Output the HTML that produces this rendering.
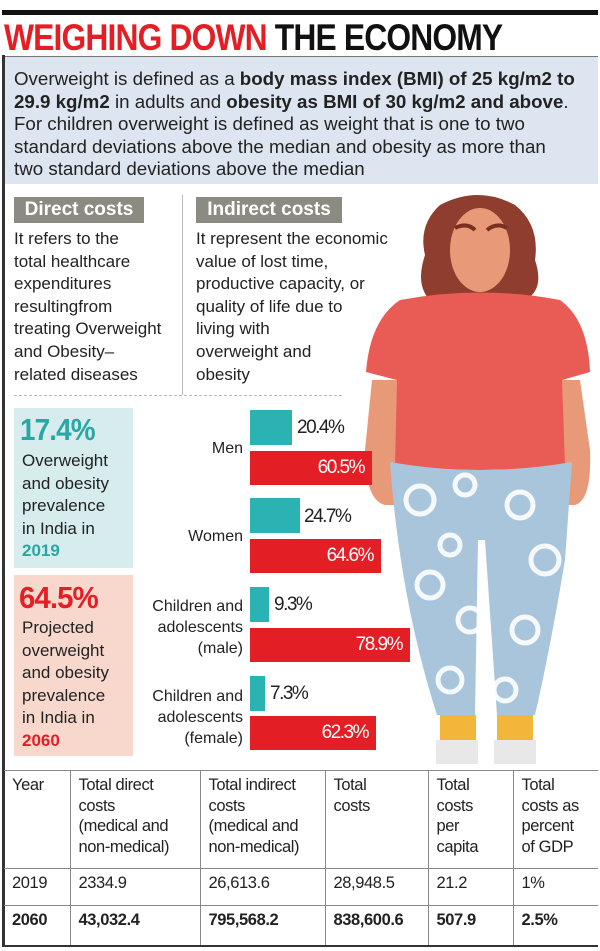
<!DOCTYPE html>
<html><head><meta charset="utf-8"><style>
*{margin:0;padding:0;box-sizing:border-box}
body{width:600px;height:951px;background:#fff;position:relative;overflow:hidden;font-family:"Liberation Sans",sans-serif;color:#222}
.a{position:absolute}
.bar{position:absolute;left:250px}
.teal{background:#2bb3b3}
.red{background:#e31e24;color:#fff;text-align:right;font-size:19px;letter-spacing:-1.5px;padding-right:8px;line-height:34px}
.pct{position:absolute;font-size:19px;letter-spacing:-1.5px;line-height:34px}
.lbl{position:absolute;right:357px;text-align:right;font-size:16px;line-height:21px}
.nw{white-space:nowrap;transform-origin:left top}
table{position:absolute;left:4px;top:770px;width:594px;border-collapse:collapse;font-size:16.5px;line-height:20.5px;letter-spacing:-0.4px}
td{border-left:1.5px solid #888;border-top:1.5px solid #888;vertical-align:top;padding:4px 8px;white-space:nowrap}
td:first-child{border-left:none}
</style></head><body>
<div class="a" style="left:2px;top:10px;width:596px;height:5px;background:#111"></div>
<div class="a" style="left:2px;top:55px;width:3px;height:892px;background:#333"></div>
<div class="a nw" style="left:4px;top:16px;font-size:37px;font-weight:bold;letter-spacing:-1px;transform:scaleX(0.86);line-height:44px"><span style="color:#e31e24">WEIGHING DOWN</span> <span style="color:#111">THE ECONOMY</span></div>
<div class="a" style="left:5px;top:56px;width:593px;height:128px;background:#dde5f1;border-top:1px solid #777"></div>
<div class="a nw" style="left:14px;top:68px;font-size:18px;line-height:22.5px;color:#222;transform:scaleX(1.04)">Overweight is defined as a <b>body mass index (BMI) of 25 kg/m2 to</b><br><b>29.9 kg/m2</b> in adults and <b>obesity as BMI of 30 kg/m2 and above</b>.<br>For children overweight is defined as weight that is one to two<br>standard deviations above the median and obesity as more than<br>two standard deviations above the median</div>

<div class="a" style="left:14px;top:197px;width:130px;height:26px;background:#8c8b82;color:#fff;font-weight:bold;font-size:19px;line-height:26px;text-align:center">Direct costs</div>
<div class="a" style="left:196px;top:197px;width:146px;height:26px;background:#8c8b82;color:#fff;font-weight:bold;font-size:19px;line-height:26px;text-align:center">Indirect costs</div>
<div class="a" style="left:182px;top:195px;width:1px;height:200px;background:#bbb"></div>
<div class="a" style="left:14px;top:395px;width:328px;border-top:1px dashed #bbb"></div>
<div class="a" style="left:14px;top:228px;font-size:17px;line-height:22.6px;width:170px">It refers to the<br>total healthcare<br>expenditures<br>resultingfrom<br>treating Overweight<br>and Obesity–<br>related diseases</div>
<div class="a" style="left:196px;top:228px;font-size:17px;line-height:22.6px;width:230px">It represent the economic<br>value of lost time,<br>productive capacity, or<br>quality of life due to<br>living with<br>overweight and<br>obesity</div>

<!-- woman -->
<svg class="a" style="left:355px;top:190px" width="245" height="580" viewBox="355 190 245 580">
<path d="M440 205 Q478 185 515 205 Q540 225 535 260 Q545 290 525 300 L430 300 Q415 285 425 255 Q418 225 440 205Z" fill="#8e3d2e"/>
<path d="M372 380 L365 450 Q365 500 385 505 L395 505 L400 380Z" fill="#e89a78"/>
<path d="M580 380 L590 450 Q592 500 575 505 L565 505 L560 380Z" fill="#e89a78"/>
<ellipse cx="480" cy="250" rx="30" ry="42" fill="#e89a78"/>
<path d="M455 228 q12 -6 20 2 M487 230 q10 -8 20 -2" stroke="#7a3020" stroke-width="4" fill="none"/>
<path d="M400 300 Q480 285 560 300 Q588 320 590 372 L562 380 L565 465 Q480 475 395 465 L397 380 L366 372 Q370 320 400 300Z" fill="#e85c55"/>
<path d="M390 462 Q480 478 572 462 L565 560 Q550 650 535 715 L497 715 L485 540 L478 540 L475 715 L437 715 Q400 600 390 462Z" fill="#a9c5dc"/>
<g fill="none" stroke="#fff" stroke-width="5" opacity=".9">
<circle cx="420" cy="500" r="14"/><circle cx="450" cy="545" r="10"/><circle cx="520" cy="505" r="13"/><circle cx="545" cy="560" r="14"/><circle cx="430" cy="585" r="13"/><circle cx="470" cy="620" r="12"/><circle cx="525" cy="630" r="13"/><circle cx="450" cy="680" r="12"/><circle cx="505" cy="690" r="11"/><circle cx="465" cy="485" r="10"/>
</g>
<path d="M440 715 h36 v30 h-36z M497 715 h36 v30 h-36z" fill="#f2b63a"/>
<path d="M436 740 h42 v24 h-42z M494 740 h42 v24 h-42z" fill="#e8e8e8"/>
</svg>

<!-- stat boxes -->
<div class="a" style="left:14px;top:408px;width:119px;height:160px;background:#d6eced"></div>
<div class="a" style="left:14px;top:575px;width:119px;height:181px;background:#f8d8cd"></div>
<div class="a nw" style="left:20px;top:412px;font-size:31px;font-weight:bold;color:#2aa7a5;letter-spacing:-1px;transform:scaleX(0.9)">17.4%</div>
<div class="a" style="left:22px;top:450px;font-size:17px;line-height:22.5px">Overweight<br>and obesity<br>prevalence<br>in India in<br><b style="color:#2aa7a5">2019</b></div>
<div class="a nw" style="left:19px;top:580px;font-size:31px;font-weight:bold;color:#e31e24;letter-spacing:-1px;transform:scaleX(0.95)">64.5%</div>
<div class="a" style="left:22px;top:617px;font-size:17px;line-height:22.5px">Projected<br>overweight<br>and obesity<br>prevalence<br>in India in<br><b style="color:#e31e24">2060</b></div>

<!-- bars -->
<div class="lbl" style="top:438px">Men</div>
<div class="bar teal" style="top:410px;width:42px;height:35px"></div><div class="pct" style="left:297px;top:411px">20.4%</div>
<div class="bar red" style="top:451px;width:122px;height:34px">60.5%</div>
<div class="lbl" style="top:526px">Women</div>
<div class="bar teal" style="top:498px;width:50px;height:35px"></div><div class="pct" style="left:304px;top:500px">24.7%</div>
<div class="bar red" style="top:539px;width:131px;height:34px">64.6%</div>
<div class="lbl" style="top:596px">Children and<br>adolescents<br>(male)</div>
<div class="bar teal" style="top:587px;width:19px;height:35px"></div><div class="pct" style="left:274px;top:588px">9.3%</div>
<div class="bar red" style="top:628px;width:160px;height:34px">78.9%</div>
<div class="lbl" style="top:686px">Children and<br>adolescents<br>(female)</div>
<div class="bar teal" style="top:676px;width:15px;height:35px"></div><div class="pct" style="left:270px;top:677px">7.3%</div>
<div class="bar red" style="top:716px;width:126px;height:34px">62.3%</div>

<table>
<tr style="height:98px"><td style="width:66px">Year</td><td style="width:130px">Total direct<br>costs<br>(medical and<br>non-medical)</td><td style="width:125px">Total indirect<br>costs<br>(medical and<br>non-medical)</td><td style="width:103px">Total<br>costs</td><td style="width:85px">Total<br>costs<br>per<br>capita</td><td>Total<br>costs as<br>percent<br>of GDP</td></tr>
<tr style="height:37px"><td>2019</td><td>2334.9</td><td>26,613.6</td><td>28,948.5</td><td>21.2</td><td>1%</td></tr>
<tr style="height:40px;font-weight:bold;border-bottom:2px solid #333"><td>2060</td><td>43,032.4</td><td>795,568.2</td><td>838,600.6</td><td>507.9</td><td>2.5%</td></tr>
</table>
</body></html>
